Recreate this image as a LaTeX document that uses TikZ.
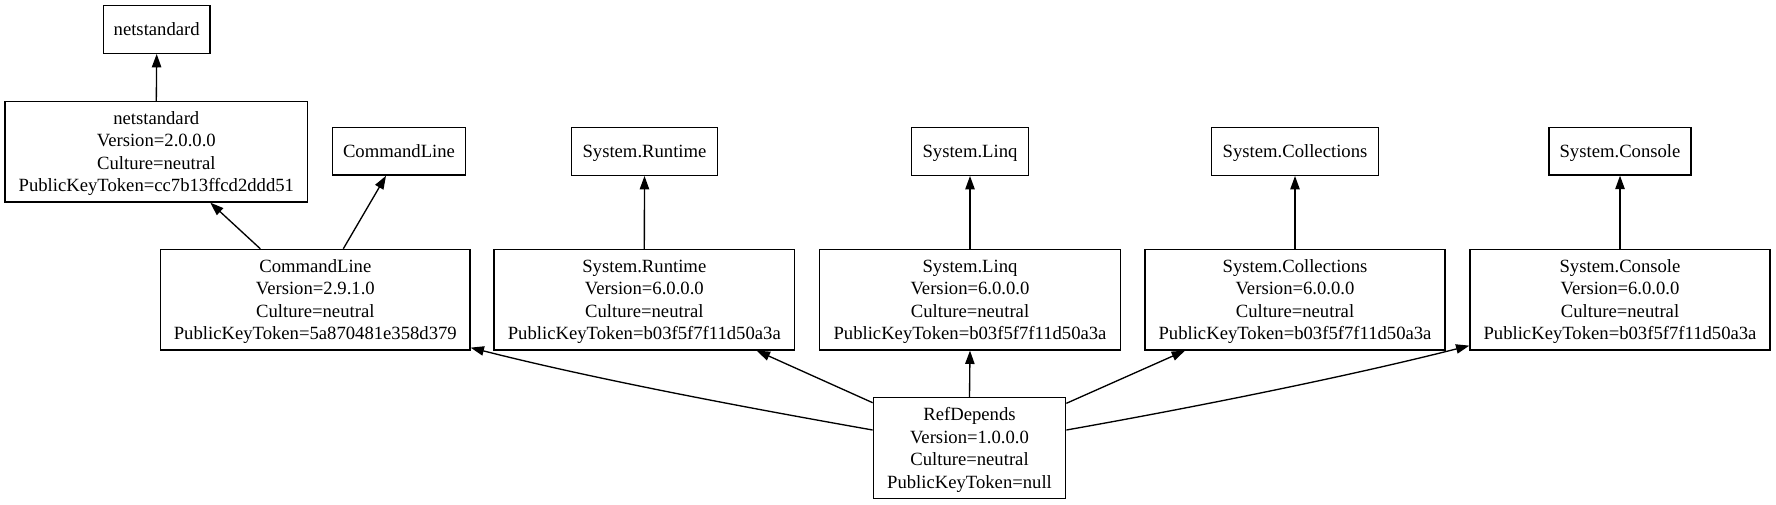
\documentclass[tikz,border=0pt]{standalone}
\usepackage{fontspec}
\setmainfont{Liberation Serif}
\usetikzlibrary{arrows.meta,calc}
\begin{document}
\begin{tikzpicture}[x=0.75pt,y=-0.75pt,
  box/.style={draw,line width=1pt,rectangle,inner sep=0pt,align=center,text depth=0pt,font=\fontsize{14pt}{16.8pt}\selectfont},
  smallbox/.style={box,minimum height=35.7pt},
  bigbox/.style={box,minimum height=75.4pt},
  dep/.style={line width=1pt,-{Triangle[length=10pt,width=7pt]}}]
\useasboundingbox (0,0) rectangle (1776,504);
% top rank
\node[smallbox,minimum width=80pt] (nstop) at (156.7,29.5) {netstandard};
% second rank
\node[bigbox,minimum width=227pt] (nsbig) at (156.3,151.7) {netstandard\\Version=2.0.0.0\\Culture=neutral\\PublicKeyToken=cc7b13ffcd2ddd51};
\node[smallbox,minimum width=100pt] (clsmall) at (399,151.3) {CommandLine};
\node[smallbox,minimum width=109.2pt] (rtsmall) at (644.5,151.5) {System.Runtime};
\node[smallbox,minimum width=87.4pt] (linqsmall) at (970,151.5) {System.Linq};
\node[smallbox,minimum width=124.9pt] (collsmall) at (1295,151.5) {System.Collections};
\node[smallbox,minimum width=106.3pt] (conssmall) at (1620,151.2) {System.Console};
% third rank
\node[bigbox,minimum width=232pt] (clbig) at (315.3,299.7) {CommandLine\\Version=2.9.1.0\\Culture=neutral\\PublicKeyToken=5a870481e358d379};
\node[bigbox,minimum width=225.5pt] (rtbig) at (644.3,299.7) {System.Runtime\\Version=6.0.0.0\\Culture=neutral\\PublicKeyToken=b03f5f7f11d50a3a};
\node[bigbox,minimum width=225.6pt] (linqbig) at (970,299.7) {System.Linq\\Version=6.0.0.0\\Culture=neutral\\PublicKeyToken=b03f5f7f11d50a3a};
\node[bigbox,minimum width=225pt] (collbig) at (1295,299.7) {System.Collections\\Version=6.0.0.0\\Culture=neutral\\PublicKeyToken=b03f5f7f11d50a3a};
\node[bigbox,minimum width=225pt] (consbig) at (1620,299.7) {System.Console\\Version=6.0.0.0\\Culture=neutral\\PublicKeyToken=b03f5f7f11d50a3a};
% bottom
\node[bigbox,minimum width=144.3pt] (ref) at (969.5,448) {RefDepends\\Version=1.0.0.0\\Culture=neutral\\PublicKeyToken=null};
% edges
\draw[dep] (nsbig.north) -- (nstop.south);
\draw[dep] ($(clbig.north)+(-55,0)$) -- ($(nsbig.south)+(54,0)$);
\draw[dep] ($(clbig.north)+(28,0)$) -- ($(clsmall.south)+(-13,0)$);
\draw[dep] (rtbig.north) -- (rtsmall.south);
\draw[dep] (linqbig.north) -- (linqsmall.south);
\draw[dep] (collbig.north) -- (collsmall.south);
\draw[dep] (consbig.north) -- (conssmall.south);
\draw[dep] ($(ref.west)+(0,-18)$) .. controls +(-113,-20) and +(130,33) .. ($(clbig.south east)+(0,-3)$);
\draw[dep] ($(ref.west)+(0,-45.3)$) -- ($(rtbig.south)+(112.4,0)$);
\draw[dep] (ref.north) -- (linqbig.south);
\draw[dep] ($(ref.east)+(0,-44.7)$) -- ($(collbig.south)+(-110,0)$);
\draw[dep] ($(ref.east)+(0,-18)$) .. controls +(113,-20) and +(-130,33) .. ($(consbig.south west)+(0,-5)$);
\end{tikzpicture}
\end{document}
